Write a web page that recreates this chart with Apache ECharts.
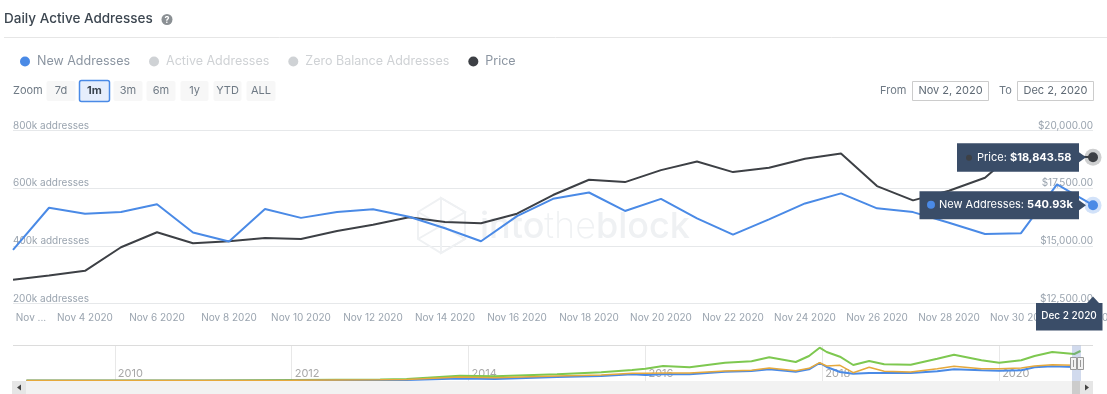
<!DOCTYPE html>
<html>
<head>
<meta charset="utf-8">
<title>Daily Active Addresses</title>
<script src="https://cdn.jsdelivr.net/npm/echarts@6/dist/echarts.min.js"></script>
<style>
  html, body { margin: 0; padding: 0; background: #fff; }
  #chart { width: 1107px; height: 394px; }
</style>
</head>
<body>
<div id="chart"></div>
<script>
const days = ['Nov 2 2020', 'Nov 3 2020', 'Nov 4 2020', 'Nov 5 2020', 'Nov 6 2020', 'Nov 7 2020', 'Nov 8 2020',
  'Nov 9 2020', 'Nov 10 2020', 'Nov 11 2020', 'Nov 12 2020', 'Nov 13 2020', 'Nov 14 2020', 'Nov 15 2020',
  'Nov 16 2020', 'Nov 17 2020', 'Nov 18 2020', 'Nov 19 2020', 'Nov 20 2020', 'Nov 21 2020', 'Nov 22 2020',
  'Nov 23 2020', 'Nov 24 2020', 'Nov 25 2020', 'Nov 26 2020', 'Nov 27 2020', 'Nov 28 2020', 'Nov 29 2020',
  'Nov 30 2020', 'Dec 1 2020', 'Dec 2 2020'];
const newAddresses = [386000, 532000, 511000, 517000, 544000, 446000, 415000, 528000, 497000, 517000, 527000,
  501000, 461000, 416000, 503000, 563000, 585000, 521000, 563000, 495000, 439000, 492000, 547000, 582000,
  530000, 517000, 480000, 441000, 444000, 613000, 540930];
const price = [13525, 13712, 13915, 14940, 15588, 15113, 15199, 15342, 15299, 15645, 15917, 16237, 16034, 15978,
  16393, 17202, 17864, 17764, 18283, 18659, 18197, 18382, 18772, 19005, 17591, 16972, 17388, 17950, 19300,
  18900, 18843.58];

// navigator, heights
const navYears = [2009, 2011, 2012, 2013, 2013.3, 2013.9, 2014.3, 2015, 2015.5, 2015.85, 2016, 2016.2, 2016.5,
  2016.9, 2017.2, 2017.4, 2017.7, 2017.85, 2017.97, 2018.05, 2018.2, 2018.35, 2018.53, 2018.7, 2019, 2019.3,
  2019.49, 2019.8, 2020, 2020.25, 2020.4, 2020.6, 2020.85, 2020.92];
const navGreen = [0.5, 0.5, 1, 1.5, 2, 5.3, 4.7, 6.7, 8.7, 11, 12.3, 15, 13.7, 18.3, 19.7, 23.7, 19, 25, 33.3, 29,
  24.3, 16, 20, 16.7, 16.3, 22.3, 26.3, 20.7, 18.3, 20.7, 25, 29, 27, 30];
const navOrange = [0.4, 0.4, 0.7, 1.2, 1.6, 4, 3.3, 5, 6, 7.7, 7.7, 8, 8, 10, 10.7, 13, 10.3, 12.7, 18.3, 15,
  15.7, 8.3, 13.7, 9.7, 9, 12.3, 14.7, 12.3, 12.3, 13, 15, 16.3, 15.7, 16];
const navBlue = [0.2, 0.2, 0.4, 0.8, 1, 2.5, 2, 4, 5, 6.7, 6, 6.7, 6.7, 9.3, 10, 11.7, 9.3, 11.7, 18, 14, 9, 7.3,
  8, 8, 8, 9.7, 11.7, 10.7, 10.3, 10.7, 13.7, 14.7, 14, 14.5];

const zoomButtons = [['7d', 46, 29], ['1m', 79, 30], ['3m', 113, 29], ['6m', 146, 29], ['1y', 180, 28], ['YTD', 213, 28], ['ALL', 246, 29]];

const FONT = 'Inter, "Noto Sans", sans-serif';
const BLUE = '#4a8ae6';
const DARK = '#3d4045';
const LABEL = '#9aa4af';
const BOX = '#3a4d68';

const chart = echarts.init(document.getElementById('chart'));

function money(v) {
  return '$' + v.toLocaleString('en-US', {minimumFractionDigits: 2, maximumFractionDigits: 2});
}

chart.setOption({
  animation: false,
  textStyle: {fontFamily: FONT},
  legend: {
    left: 15,
    top: 50,
    itemWidth: 10,
    itemHeight: 10,
    itemGap: 19,
    icon: 'circle',
    inactiveColor: '#cfd2d5',
    textStyle: {fontFamily: FONT, fontSize: 12.5, color: '#8b95a1', padding: [0, 0, 0, 2]},
    data: ['New Addresses', 'Active Addresses', 'Zero Balance Addresses', 'Price'],
    selected: {'Active Addresses': false, 'Zero Balance Addresses': false}
  },
  grid: [
    {left: 13, right: 14, top: 130.5, height: 173, outerBoundsMode: 'none'},
    // wider than the canvas so the year ticks fall on whole multiples of 2
    {left: -62, right: -69, top: 345.5, bottom: 13, outerBoundsMode: 'none'}
  ],
  xAxis: [{
    type: 'category',
    gridIndex: 0,
    boundaryGap: false,
    data: days,
    axisTick: {show: false},
    axisLine: {show: false},
    axisLabel: {
      interval: 1,
      margin: 9,
      color: LABEL,
      fontSize: 10,
      fontFamily: FONT,
      hideOverlap: false,
      alignMinLabel: 'left',
      formatter: v => v === days[0] ? ' Nov ...' : v
    }
  }, {
    type: 'value',
    gridIndex: 1,
    min: 2008,
    max: 2022,
    interval: 2,
    axisTick: {show: false},
    axisLine: {show: false},
    splitLine: {lineStyle: {color: '#e8e8e8'}},
    axisLabel: {
      inside: true,
      margin: 2,
      align: 'left',
      verticalAlign: 'bottom',
      padding: [0, 0, 0, 3],
      color: '#a8a8a8',
      fontSize: 11,
      fontFamily: FONT,
      showMinLabel: false,
      showMaxLabel: false,
      formatter: v => String(v)
    }
  }],
  yAxis: [{
    type: 'value',
    gridIndex: 0,
    min: 200000,
    max: 800000,
    interval: 200000,
    axisLine: {show: false},
    axisTick: {show: false},
    splitLine: {lineStyle: {color: '#e6e8ea'}},
    axisLabel: {
      inside: true,
      margin: 0,
      verticalAlign: 'bottom',
      color: LABEL,
      fontSize: 10,
      fontFamily: FONT,
      formatter: v => (v / 1000) + 'k addresses'
    }
  }, {
    type: 'value',
    gridIndex: 0,
    position: 'right',
    min: 12500,
    max: 20000,
    interval: 2500,
    axisLine: {show: false},
    axisTick: {show: false},
    splitLine: {show: false},
    axisLabel: {
      inside: true,
      margin: 0,
      verticalAlign: 'bottom',
      color: LABEL,
      fontSize: 10,
      fontFamily: FONT,
      formatter: money
    }
  }, {
    type: 'value',
    gridIndex: 1,
    min: 0,
    max: 35.5,
    show: false
  }],
  series: [{
    name: 'New Addresses',
    type: 'line',
    color: BLUE,
    z: 4,
    symbol: 'none',
    lineStyle: {width: 2, color: BLUE},
    data: newAddresses,
    markPoint: {
      silent: true,
      symbol: 'circle',
      label: {show: false},
      data: [
        {coord: [days.length - 1, newAddresses[newAddresses.length - 1]], symbolSize: 17, itemStyle: {color: 'rgba(74,138,230,0.25)'}},
        {coord: [days.length - 1, newAddresses[newAddresses.length - 1]], symbolSize: 10, itemStyle: {color: BLUE}}
      ]
    }
  }, {
    name: 'Active Addresses',
    type: 'line',
    color: '#e6a93c',
    symbol: 'none',
    data: []
  }, {
    name: 'Zero Balance Addresses',
    type: 'line',
    color: '#7ec850',
    symbol: 'none',
    data: []
  }, {
    name: 'Price',
    type: 'line',
    yAxisIndex: 1,
    color: DARK,
    z: 3,
    symbol: 'none',
    lineStyle: {width: 2, color: DARK},
    data: price,
    markPoint: {
      silent: true,
      symbol: 'circle',
      label: {show: false},
      data: [
        {coord: [days.length - 1, price[price.length - 1]], symbolSize: 17, itemStyle: {color: 'rgba(61,64,69,0.25)'}},
        {coord: [days.length - 1, price[price.length - 1]], symbolSize: 10, itemStyle: {color: DARK}}
      ]
    }
  }, {
    name: 'nav zero',
    type: 'line',
    xAxisIndex: 1,
    yAxisIndex: 2,
    symbol: 'none',
    lineStyle: {width: 2, color: '#7ec850'},
    data: navYears.map((y, i) => [y, navGreen[i]])
  }, {
    name: 'nav new',
    type: 'line',
    xAxisIndex: 1,
    yAxisIndex: 2,
    symbol: 'none',
    lineStyle: {width: 2, color: BLUE},
    data: navYears.map((y, i) => [y, navBlue[i]])
  }, {
    name: 'nav active',
    type: 'line',
    xAxisIndex: 1,
    yAxisIndex: 2,
    symbol: 'none',
    lineStyle: {width: 1.5, color: '#e6a93c'},
    data: navYears.map((y, i) => [y, navOrange[i]])
  }]
});

function txt(x, y, text, fontSize, fill, extra) {
  return {
    type: 'text',
    z: 50,
    style: Object.assign({x, y, text, fontSize, fill, fontFamily: FONT, verticalAlign: 'middle'}, extra)
  };
}

function rect(x, y, width, height, fill, stroke, z) {
  return {type: 'rect', z: z || 50, shape: {x, y, width, height}, style: {fill, stroke: stroke || null, lineWidth: 1}};
}

function tri(points, fill, z) {
  return {type: 'polygon', z: z || 60, shape: {points}, style: {fill}};
}

function chrome() {
  const items = [];

  // header
  items.push(txt(4, 18.5, 'Daily Active Addresses', 13.5, '#3c4650', {fontWeight: 500}));
  items.push({type: 'circle', z: 50, shape: {cx: 167, cy: 19.5, r: 5.5}, style: {fill: '#8b9094'}});
  items.push(txt(167, 19.8, '?', 9, '#fff', {align: 'center', fontWeight: 700}));
  items.push({type: 'line', z: 50, shape: {x1: 4, y1: 37.5, x2: 1107, y2: 37.5}, style: {stroke: '#e6e6e6'}});

  // range buttons
  items.push(txt(13, 91, 'Zoom', 11, '#6f7a85'));
  zoomButtons.forEach(([label, x, w]) => {
    const on = label === '1m';
    items.push({type: 'rect', z: 50, shape: {x: x + 0.5, y: on ? 80.5 : 81, width: w, height: on ? 21 : 20, r: 2},
      style: {fill: on ? '#e6eefc' : '#f7f7f7', stroke: on ? BLUE : null, lineWidth: on ? 1.5 : 0}});
    items.push(txt(x + w / 2 + 0.5, 91, label, 11, on ? '#3c4650' : '#6f7a85', {align: 'center', fontWeight: on ? 700 : 400}));
  });

  // date range inputs
  items.push(txt(880, 90.5, 'From', 11, '#6f7a85'));
  items.push(rect(912.5, 81.5, 76, 19, '#fff', '#cccccc'));
  items.push(txt(950.5, 91, 'Nov 2, 2020', 11, '#5f6a75', {align: 'center'}));
  items.push(txt(999, 90.5, 'To', 11, '#6f7a85'));
  items.push(rect(1017.5, 81.5, 76, 19, '#fff', '#cccccc'));
  items.push(txt(1055.5, 91, 'Dec 2, 2020', 11, '#5f6a75', {align: 'center'}));

  // watermark
  const mark = '#eff1f3';
  items.push({type: 'polygon', z: 1, shape: {points: [[441, 198], [465, 212], [465, 239], [441, 253], [418, 239], [418, 212]]},
    style: {fill: null, stroke: mark, lineWidth: 2}});
  items.push({type: 'polyline', z: 1, shape: {points: [[418, 212], [465, 239], [441, 253], [441, 198], [465, 212], [418, 239]]},
    style: {fill: null, stroke: mark, lineWidth: 2}});
  items.push({
    type: 'text',
    z: 1,
    style: {
      x: 480, y: 227, verticalAlign: 'middle', fontFamily: FONT,
      text: '{a|into}{b|the}{a|block}',
      rich: {
        a: {fontSize: 36, fontWeight: 500, fill: mark, fontFamily: FONT},
        b: {fontSize: 36, fontWeight: 200, fill: mark, fontFamily: FONT}
      }
    }
  });

  // navigator
  items.push({type: 'line', z: 50, shape: {x1: 13, y1: 345.5, x2: 1093, y2: 345.5}, style: {stroke: '#dcdcdc'}});
  items.push(rect(13, 381, 1080, 13, '#f2f2f2'));
  items.push(rect(12, 381, 14, 13, '#e6e6e6'));
  items.push(tri([[21, 384.5], [21, 390.5], [17, 387.5]], '#444', 51));
  items.push(rect(1080, 381, 13, 13, '#e6e6e6'));
  items.push(tri([[1085, 384.5], [1085, 390.5], [1089, 387.5]], '#444', 51));
  items.push({type: 'rect', z: 50, shape: {x: 1072, y: 345.5, width: 9, height: 35.5}, style: {fill: 'rgba(102,133,194,0.3)'}});
  items.push(rect(1072, 381, 8, 13, '#cccccc'));
  [1070.5, 1077.5].forEach(x => {
    items.push(rect(x, 357.5, 6, 12, '#f2f2f2', '#999999', 52));
    items.push({type: 'line', z: 53, shape: {x1: x + 3, y1: 360, x2: x + 3, y2: 367}, style: {stroke: '#999'}});
  });

  // pinned tooltips, anchored on the last points
  const last = days.length - 1;
  const pPrice = chart.convertToPixel({seriesIndex: 3}, [last, price[last]]);
  const pNew = chart.convertToPixel({seriesIndex: 0}, [last, newAddresses[last]]);

  items.push(rect(957, pPrice[1] - 14, 122, 28.5, BOX, null, 60));
  items.push(tri([[1079, pPrice[1] - 5], [1086, pPrice[1]], [1079, pPrice[1] + 5]], BOX));
  items.push({type: 'line', z: 59, shape: {x1: 1084, y1: pPrice[1], x2: pPrice[0], y2: pPrice[1]}, style: {stroke: DARK, lineWidth: 1.5}});
  items.push({type: 'circle', z: 61, shape: {cx: 969, cy: pPrice[1] + 0.5, r: 3}, style: {fill: DARK}});
  items.push({
    type: 'text',
    z: 61,
    style: {
      x: 977, y: pPrice[1] + 0.5, verticalAlign: 'middle', fontFamily: FONT,
      text: '{n|Price: }{v|' + money(price[last]) + '}',
      rich: {
        n: {fontSize: 11, fill: '#fff', fontFamily: FONT},
        v: {fontSize: 11, fontWeight: 700, fill: '#fff', fontFamily: FONT}
      }
    }
  });

  items.push(rect(919.5, pNew[1] - 14, 159.5, 28, BOX, null, 60));
  items.push(tri([[1079, pNew[1] - 5], [1086, pNew[1]], [1079, pNew[1] + 5]], BOX));
  items.push({type: 'circle', z: 61, shape: {cx: 931, cy: pNew[1] - 0.5, r: 4}, style: {fill: BLUE}});
  items.push({
    type: 'text',
    z: 61,
    style: {
      x: 939, y: pNew[1] - 0.5, verticalAlign: 'middle', fontFamily: FONT,
      text: '{n|New Addresses: }{v|' + (newAddresses[last] / 1000).toFixed(2) + 'k}',
      rich: {
        n: {fontSize: 11, fill: '#fff', fontFamily: FONT},
        v: {fontSize: 11, fontWeight: 700, fill: '#fff', fontFamily: FONT}
      }
    }
  });

  // date flag under the crosshair point
  items.push(rect(1036, 303, 66.5, 27.5, BOX, null, 60));
  items.push(tri([[1087, 303], [1093, 296.5], [1099, 303]], BOX));
  items.push(txt(1069, 316, days[last], 10, '#fff', {align: 'center', fontWeight: 500}));
  items[items.length - 1].z = 61;

  return items;
}

chart.setOption({graphic: {elements: chrome()}});
</script>
</body>
</html>
